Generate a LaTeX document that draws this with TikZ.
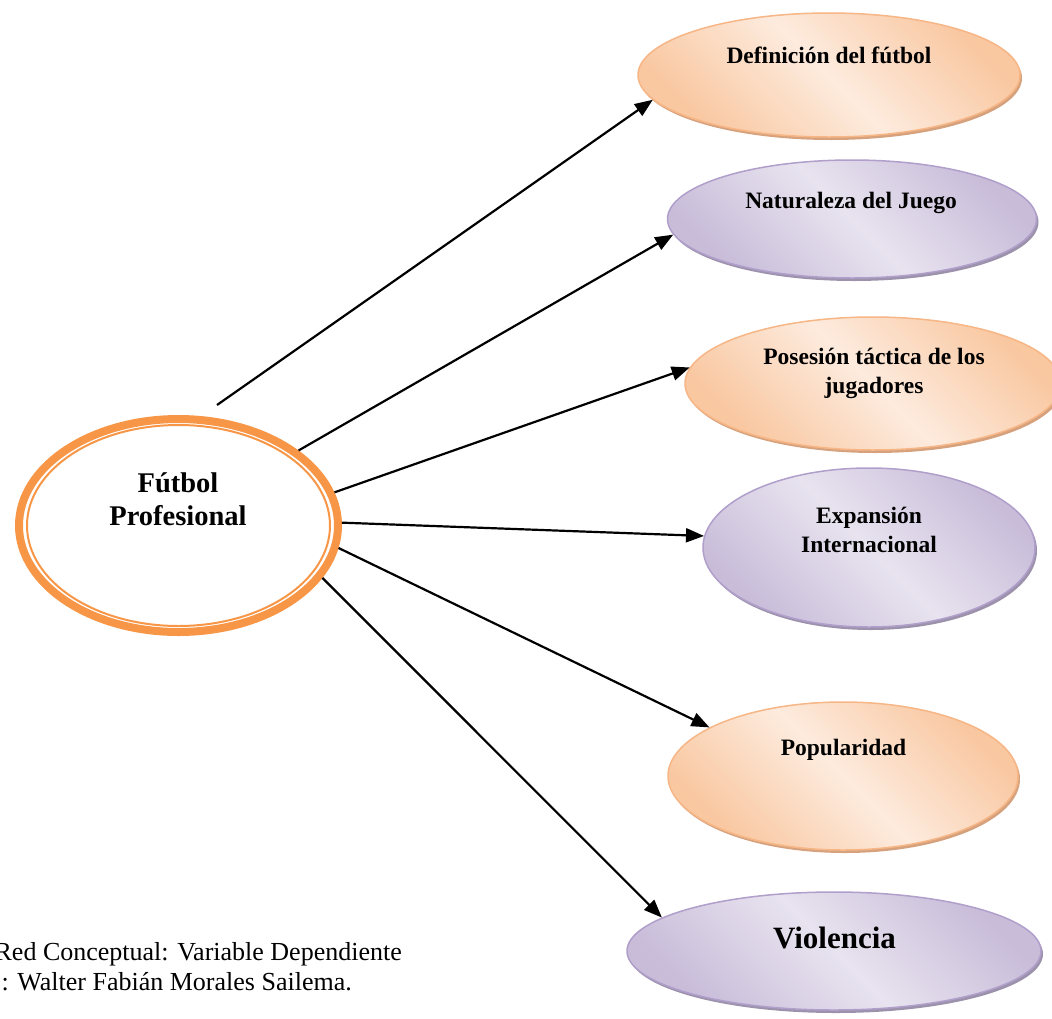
\documentclass[tikz,border=0pt]{standalone}
\usepackage{fontspec}
\setmainfont{Liberation Serif}
\usetikzlibrary{shapes.geometric,arrows.meta,shadows}
\definecolor{ring}{HTML}{F79646}
\definecolor{orEdge}{HTML}{F9C7A0}
\definecolor{orMid}{HTML}{FDEBDE}
\definecolor{orBorder}{HTML}{F7B686}
\definecolor{orShadow}{HTML}{D6A27E}
\definecolor{puEdge}{HTML}{C8BCD9}
\definecolor{puMid}{HTML}{E8E3EF}
\definecolor{puBorder}{HTML}{B09FCA}
\definecolor{puShadow}{HTML}{9C92AC}
\tikzset{
  orell/.style={ellipse, draw=orBorder, line width=1.5pt, top color=orEdge, bottom color=orEdge,
    middle color=orMid, shading angle=-45, inner sep=0pt,
    general shadow={fill=orShadow, shadow xshift=2pt, shadow yshift=-3pt}},
  puell/.style={ellipse, draw=puBorder, line width=1.5pt, top color=puEdge, bottom color=puEdge,
    middle color=puMid, shading angle=-45, inner sep=0pt,
    general shadow={fill=puShadow, shadow xshift=2pt, shadow yshift=-3pt}},
  lbl/.style={font=\bfseries\fontsize{23.5}{29}\selectfont, align=center, inner sep=0pt, anchor=base},
  captxt/.style={font=\fontsize{26}{30}\selectfont, inner sep=0pt, anchor=base east},
  arr/.style={-{Triangle[length=18pt,width=14pt]}, line width=2.2pt, black}
}
\begin{document}
\begin{tikzpicture}[x=1pt,y=-1pt]
\useasboundingbox (0,0) rectangle (1052,1018);
% central
\node[ellipse, draw=ring, line width=8pt, minimum width=319pt, minimum height=213pt, inner sep=0pt] (c) at (178.5,525.5) {};
\draw[ring, line width=2pt] (c.center) ellipse [x radius=151.5pt, y radius=100.5pt];
\node[lbl, font=\bfseries\fontsize{28.5}{33}\selectfont] (ct) at (178,525) {Fútbol\\Profesional};
% satellites
\node[orell, minimum width=382pt, minimum height=124pt] (e1) at (829,75) {};
\node[puell, minimum width=369pt, minimum height=118pt] (e2) at (852,219) {};
\node[orell, minimum width=376pt, minimum height=133pt] (e3) at (873,383.5) {};
\node[puell, minimum width=332pt, minimum height=159pt] (e4) at (869,547.5) {};
\node[orell, minimum width=350pt, minimum height=148pt] (e5) at (843,776) {};
\node[puell, minimum width=414pt, minimum height=118pt] (e6) at (834,951) {};
\node[lbl] (t1) at (829,63) {Definición del fútbol};
\node[lbl] (t2) at (851,208) {Naturaleza del Juego};
\node[lbl] (t3) at (874,393) {Posesión táctica de los\\jugadores};
\node[lbl] (t4) at (869,552) {Expansión\\Internacional};
\node[lbl] (t5) at (843.5,755) {Popularidad};
\node[lbl, font=\bfseries\fontsize{31}{36}\selectfont] (t6) at (834.5,948) {Violencia};
% connectors
\coordinate (s1) at (217,405);
\draw[arr] (s1) -- (e1.188.9);
\draw[arr] (c.32.8) -- (e2.185.3);
\draw[arr] (c.12.2) -- (e3.175.3);
\draw[arr] (c.1.6) -- (e4.176);
\draw[arr] (c.-8) -- (e5.160.4);
\draw[arr] (c.-20) -- (e6.169.8);
% caption
\node[captxt] (k1) at (402,960) {Red Conceptual: Variable Dependiente};
\node[captxt] (k2) at (352,990) {: Walter Fabián Morales Sailema.};
\end{tikzpicture}
\end{document}
